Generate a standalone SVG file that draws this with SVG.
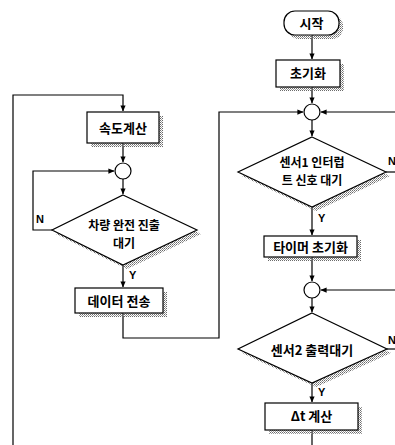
<svg xmlns="http://www.w3.org/2000/svg" width="395" height="445" viewBox="0 0 395 445">
<defs>
<pattern id="dots" width="2" height="2" patternUnits="userSpaceOnUse">
<rect x="0" y="0" width="1" height="1" fill="#6a6a6a"/>
<rect x="1" y="1" width="1" height="1" fill="#9a9a9a"/>
</pattern>
<marker id="arr" viewBox="0 0 8 8" refX="7.5" refY="4" markerWidth="6" markerHeight="6" orient="auto" markerUnits="userSpaceOnUse">
<path d="M0,0.5 L8,4 L0,7.5 Z" fill="#000"/>
</marker>
<style>
.shape{fill:#fff;stroke:#000;stroke-width:1.2}
.shadow{fill:url(#dots);stroke:none}
.lbl{font-family:"Noto Sans CJK KR","Liberation Sans",sans-serif;font-weight:bold;font-size:13px;fill:#000;text-anchor:middle}
.lbl2{font-size:12px}
.yn{font-family:"Liberation Sans","DejaVu Sans",sans-serif;font-weight:bold;font-size:11px;fill:#000}
.ln{fill:none;stroke:#000;stroke-width:1.2}
</style>
</defs>
<rect width="395" height="445" fill="#fff"/>

<g id="connectors">
<path class="ln" d="M312,35 V59" marker-end="url(#arr)"/>
<path class="ln" d="M312,87 V103" marker-end="url(#arr)"/>
<path class="ln" d="M312,120 V136" marker-end="url(#arr)"/>
<path class="ln" d="M312,207 V235" marker-end="url(#arr)"/>
<path class="ln" d="M312,257 V281" marker-end="url(#arr)"/>
<path class="ln" d="M312,298 V312" marker-end="url(#arr)"/>
<path class="ln" d="M312,383 V402" marker-end="url(#arr)"/>
<path class="ln" d="M312,430 V445"/>
<path class="ln" d="M386,172 H395"/>
<path class="ln" d="M387,349 H395"/>
<path class="ln" d="M395,112 H321" marker-end="url(#arr)"/>
<path class="ln" d="M395,290 H321" marker-end="url(#arr)"/>
<path class="ln" d="M13,445 V95 H123 V111" marker-end="url(#arr)"/>
<path class="ln" d="M123,143 V162" marker-end="url(#arr)"/>
<path class="ln" d="M123,179 V194" marker-end="url(#arr)"/>
<path class="ln" d="M52,230 H33 V171 H114" marker-end="url(#arr)"/>
<path class="ln" d="M123,265 V287" marker-end="url(#arr)"/>
<path class="ln" d="M123,313 V338 H219 V112 H303" marker-end="url(#arr)"/>
<text class="yn" x="36" y="223">N</text>
<text class="yn" x="129" y="279">Y</text>
<text class="yn" x="388" y="165">N</text>
<text class="yn" x="318" y="222">Y</text>
<text class="yn" x="388" y="344">N</text>
<text class="yn" x="318" y="396">Y</text>
</g>

<g id="start">
<rect class="shadow" x="288" y="15" width="55" height="24" rx="11"/>
<rect class="shape" x="284" y="11" width="55" height="24" rx="11"/>
<text class="lbl" x="311.5" y="28">시작</text>
</g>

<g id="init">
<rect class="shadow" x="280" y="64" width="64" height="27"/>
<rect class="shape" x="276" y="60" width="64" height="27"/>
<text class="lbl" x="308" y="78">초기화</text>
</g>

<g id="junction1">
<circle class="shape" cx="312" cy="112" r="8"/>
</g>

<g id="sensor1">
<polygon class="shadow" points="316,141 390,176 316,211 242,176"/>
<polygon class="shape" points="312,137 386,172 312,207 238,172"/>
<text class="lbl lbl2" x="312" y="167">센서1 인터럽</text>
<text class="lbl lbl2" x="312" y="185">트 신호 대기</text>
</g>

<g id="timer-init">
<rect class="shadow" x="268" y="240" width="93" height="21"/>
<rect class="shape" x="264" y="236" width="93" height="21"/>
<text class="lbl" x="310.5" y="252">타이머 초기화</text>
</g>

<g id="junction2">
<circle class="shape" cx="312" cy="290" r="8"/>
</g>

<g id="sensor2">
<polygon class="shadow" points="316,317 391,353 316,387 242,353"/>
<polygon class="shape" points="312,313 387,349 312,383 238,349"/>
<text class="lbl" x="312" y="355">센서2 출력대기</text>
</g>

<g id="dt-calc">
<rect class="shadow" x="269" y="407" width="93" height="27"/>
<rect class="shape" x="265" y="403" width="93" height="27"/>
<text class="lbl" x="311.5" y="421">Δt 계산</text>
</g>

<g id="speed-calc">
<rect class="shadow" x="91" y="116" width="72" height="31"/>
<rect class="shape" x="87" y="112" width="72" height="31"/>
<text class="lbl" x="123" y="133">속도계산</text>
</g>

<g id="junction3">
<circle class="shape" cx="123" cy="171" r="8"/>
</g>

<g id="vehicle-exit">
<polygon class="shadow" points="127,199 201,234 127,269 56,234"/>
<polygon class="shape" points="123,195 197,230 123,265 52,230"/>
<text class="lbl lbl2" x="124" y="230">차량 완전 진출</text>
<text class="lbl lbl2" x="124" y="248">대기</text>
</g>

<g id="data-send">
<rect class="shadow" x="79" y="292" width="88" height="25"/>
<rect class="shape" x="75" y="288" width="88" height="25"/>
<text class="lbl" x="119" y="306">데이터 전송</text>
</g>
</svg>
